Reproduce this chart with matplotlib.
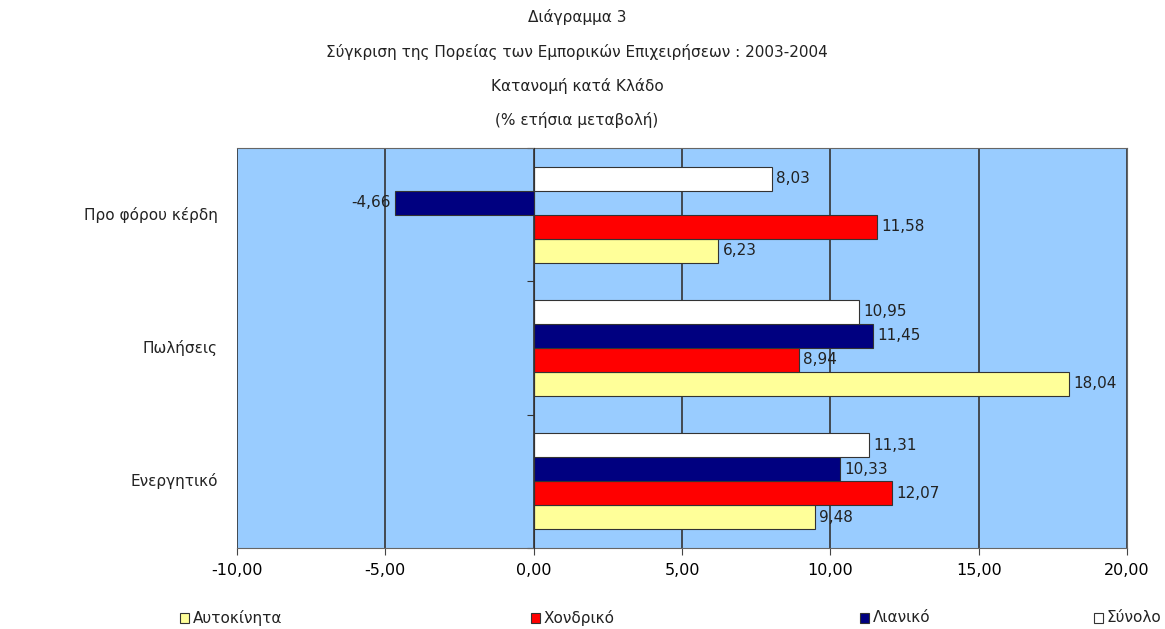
import matplotlib
matplotlib.use("Agg")
import matplotlib.pyplot as plt
import numpy as np

categories = ["Ενεργητικό", "Πωλήσεις", "Προ φόρου κέρδη"]
series_names = ["Αυτοκίνητα", "Χονδρικό", "Λιανικό", "Σύνολο"]
autokinita = [9.48, 18.04, 6.23]
xondriko = [12.07, 8.94, 11.58]
lianiko = [10.33, 11.45, -4.66]
synolo = [11.31, 10.95, 8.03]
xticks = [-10, -5, 0, 5, 10, 15, 20]

series = [autokinita, xondriko, lianiko, synolo]
colors = ["#FFFF99", "#FF0000", "#000080", "#FFFFFF"]

plt.rcParams['font.family'] = ['DejaVu Sans']
fig = plt.figure(figsize=(11.65, 6.29), dpi=100)
ax = fig.add_axes([237/1165, 1-548/629, (1127-237)/1165, (548-148)/629])
ax.set_facecolor("#99CCFF")

n = len(series)
bh = 0.18
y = np.arange(len(categories))
for i, (vals, c) in enumerate(zip(series, colors)):
    pos = y + (i - (n - 1) / 2) * bh
    ax.barh(pos, vals, height=bh, color=c, edgecolor="#333333", linewidth=0.8,
            label=series_names[i], zorder=3)
    for p, v in zip(pos, vals):
        txt = f"{v:.2f}".replace(".", ",")
        if v >= 0:
            ax.text(v + 0.15, p, txt, ha="left", va="center", fontsize=11, color="#222222", zorder=4)
        else:
            ax.text(v - 0.15, p, txt, ha="right", va="center", fontsize=11, color="#222222", zorder=4)

ax.set_xlim(-10, 20)
ax.set_ylim(-0.5, 2.5)
ax.set_xticks(xticks)
ax.set_xticklabels([f"{t:.2f}".replace(".", ",") for t in xticks], fontsize=11.5)
ax.xaxis.grid(True, color="#333333", linewidth=1.2, zorder=1)
ax.tick_params(axis="x", length=5, color="#444444", pad=6)

ax.spines['left'].set_position(('data', 0))
ax.spines['left'].set_color("#333333")
ax.spines['left'].set_zorder(5)
ax.set_yticks([-0.5, 0.5, 1.5, 2.5])
ax.set_yticklabels([])
ax.tick_params(axis="y", length=5, direction="out", color="#333333")
for s in ["top", "right", "bottom"]:
    ax.spines[s].set_color("#666666")

tr = matplotlib.transforms.blended_transform_factory(fig.transFigure, ax.transData)
for yi, cat in zip(y, categories):
    ax.text(218/1165, yi, cat, transform=tr, ha="right", va="center", fontsize=11, color="#222222")

titles = ["Διάγραμμα 3",
          "Σύγκριση της Πορείας των Εμπορικών Επιχειρήσεων : 2003-2004",
          "Κατανομή κατά Κλάδο",
          "(% ετήσια μεταβολή)"]
for i, t in enumerate(titles):
    fig.text(577/1165, 1 - (17 + 34.5 * i) / 629, t, ha="center", va="center", fontsize=11, color="#222222")

leg_x = [180, 531, 860, 1094]
for xpos, name, c in zip(leg_x, series_names, colors):
    fig.patches.append(matplotlib.patches.Rectangle((xpos/1165, 1-623/629), 9/1165, 10/629,
                       transform=fig.transFigure, facecolor=c, edgecolor="#333333", linewidth=0.8))
    fig.text((xpos + 13)/1165, 1-618/629, name, ha="left", va="center", fontsize=11, color="#222222")

fig.savefig("out.png", dpi=100)
